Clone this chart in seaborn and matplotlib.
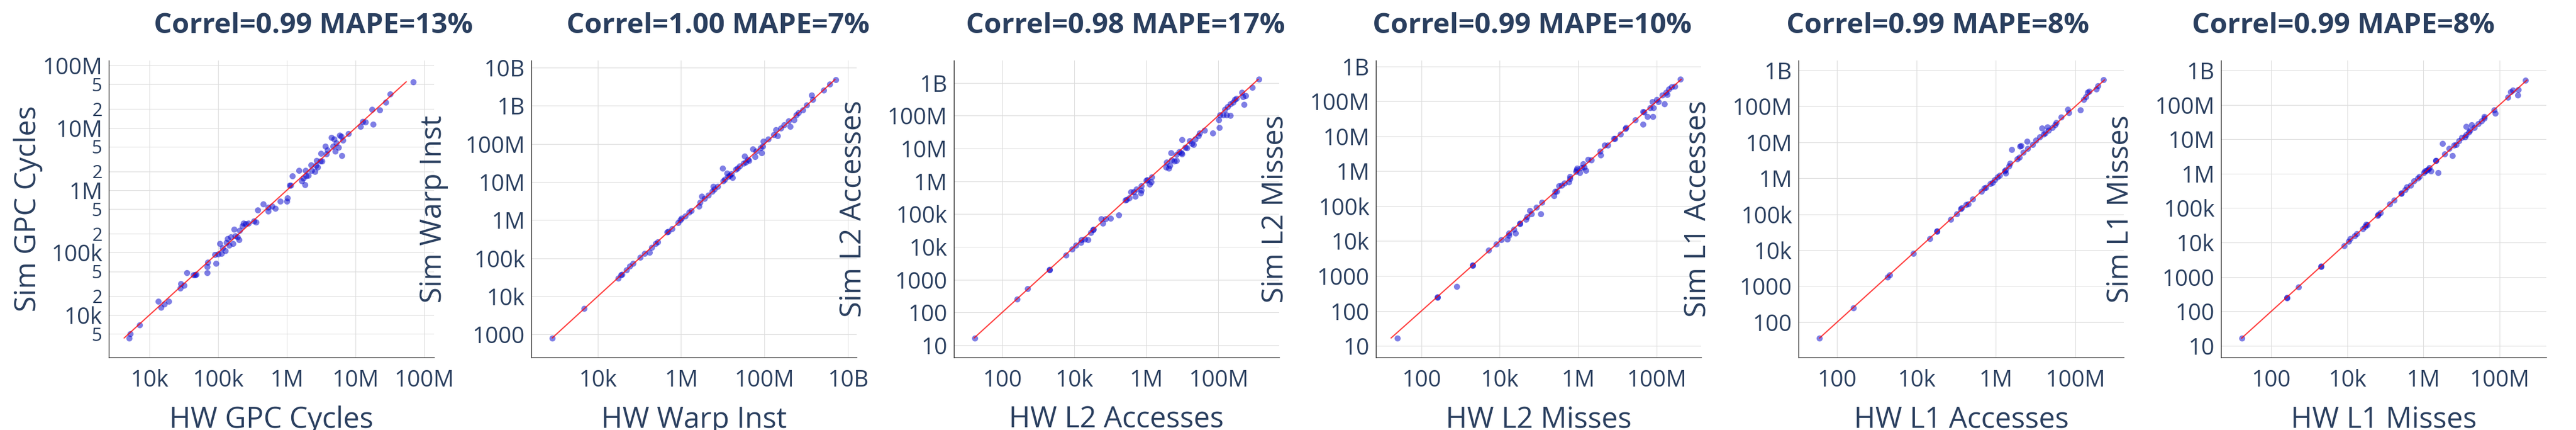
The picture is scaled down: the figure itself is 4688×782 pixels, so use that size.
import numpy as np
import pandas as pd
import seaborn as sns
from matplotlib import pyplot as plt
from matplotlib.ticker import NullLocator

# values, as log10 of the counter value
gpc_hw = [3.706, 3.718, 3.857, 4.131, 4.171, 4.220, 4.278, 4.449, 4.457, 4.502,
          4.543, 4.637, 4.665, 4.678, 4.837, 4.841, 4.845, 4.967, 4.951, 4.996,
          5.024, 5.045, 5.065, 5.106, 5.118, 5.135, 5.159, 5.188, 5.216, 5.233,
          5.249, 5.282, 5.302, 5.314, 5.355, 5.371, 5.404, 5.441, 5.518, 5.551,
          5.580, 5.657, 5.731, 5.727, 5.788, 5.829, 5.902, 6.004, 6.012, 6.041,
          6.053, 6.078, 6.176, 6.216, 6.241, 6.261, 6.269, 6.278, 6.310, 6.355,
          6.359, 6.408, 6.424, 6.433, 6.445, 6.486, 6.498, 6.510, 6.559, 6.576,
          6.596, 6.649, 6.669, 6.690, 6.706, 6.718, 6.751, 6.771, 6.792, 6.800,
          6.820, 6.898, 7.073, 7.106, 7.147, 7.257, 7.241, 7.355, 7.437, 7.502,
          7.841]
gpc_sim = [3.631, 3.699, 3.843, 4.216, 4.126, 4.171, 4.216, 4.431, 4.503, 4.472,
           4.679, 4.643, 4.643, 4.652, 4.679, 4.778, 4.845, 4.827, 4.971, 4.980,
           5.146, 4.989, 5.070, 5.034, 5.160, 5.227, 5.115, 5.249, 5.146, 5.371,
           5.272, 5.249, 5.204, 5.353, 5.425, 5.474, 5.465, 5.474, 5.506, 5.488,
           5.685, 5.780, 5.730, 5.667, 5.744, 5.708, 5.825, 5.820, 5.874, 6.081,
           6.081, 6.229, 6.319, 6.148, 6.193, 6.090, 6.319, 6.229, 6.238, 6.404,
           6.315, 6.301, 6.396, 6.476, 6.373, 6.463, 6.589, 6.463, 6.706, 6.584,
           6.643, 6.845, 6.701, 6.822, 6.629, 6.755, 6.688, 6.881, 6.867, 6.553,
           6.800, 6.912, 7.025, 7.101, 7.092, 7.056, 7.294, 7.285, 7.411, 7.546,
           7.739]

warp_hw = [2.913, 3.678, 4.490, 4.557, 4.584, 4.685, 4.772, 4.852, 5.020, 5.121,
           5.242, 5.289, 5.389, 5.443, 5.664, 5.691, 5.779, 5.926, 5.980, 6.013,
           6.094, 6.195, 6.242, 6.430, 6.450, 6.497, 6.564, 6.651, 6.745, 6.765,
           6.799, 6.879, 7.000, 7.013, 7.054, 7.101, 7.121, 7.168, 7.201, 7.235,
           7.315, 7.356, 7.403, 7.490, 7.523, 7.550, 7.604, 7.624, 7.725, 7.772,
           7.805, 7.906, 7.926, 7.960, 7.973, 8.087, 8.221, 8.275, 8.309, 8.396,
           8.477, 8.570, 8.611, 8.711, 8.758, 8.812, 8.913, 9.013, 9.134, 9.161,
           9.416, 9.564, 9.711]
warp_sim = [2.912, 3.685, 4.472, 4.568, 4.583, 4.693, 4.789, 4.862, 5.024, 5.120,
            5.157, 5.289, 5.392, 5.436, 5.694, 5.709, 5.782, 5.930, 6.003, 6.055,
            6.113, 6.209, 6.246, 6.371, 6.467, 6.629, 6.570, 6.651, 6.754, 6.886,
            6.813, 6.886, 7.365, 7.034, 7.070, 7.232, 7.144, 7.181, 7.218, 7.122,
            7.328, 7.365, 7.424, 7.497, 7.674, 7.527, 7.600, 7.564, 7.865, 7.659,
            7.806, 7.895, 7.762, 7.939, 8.064, 8.123, 8.248, 8.373, 8.211, 8.410,
            8.506, 8.601, 8.454, 8.631, 8.763, 8.822, 8.896, 9.021, 9.279, 9.161,
            9.411, 9.573, 9.691]

l2acc_hw = [1.244, 2.413, 2.709, 3.317, 3.317, 3.777, 3.933, 4.049, 4.182, 4.205,
            4.283, 4.377, 4.462, 4.517, 4.540, 4.751, 4.790, 4.868, 5.008, 5.234,
            5.413, 5.452, 5.530, 5.569, 5.686, 5.647, 5.725, 5.842, 5.857, 5.857,
            5.998, 6.036, 6.091, 6.138, 6.153, 6.543, 6.566, 6.621, 6.660, 6.683,
            6.699, 6.777, 6.839, 6.839, 6.917, 6.972, 6.987, 6.995, 7.073, 7.127,
            7.205, 7.260, 7.307, 7.361, 7.439, 7.478, 7.611, 7.844, 8.008, 8.024,
            8.039, 8.140, 8.218, 8.179, 8.257, 8.335, 8.335, 8.413, 8.452, 8.491,
            8.647, 8.686, 8.709, 8.764, 8.943, 9.130]
l2acc_sim = [1.222, 2.402, 2.718, 3.316, 3.299, 3.744, 3.932, 4.043, 4.128, 4.214,
             4.239, 4.214, 4.427, 4.513, 4.530, 4.855, 4.726, 4.855, 4.872, 4.966,
             5.427, 5.436, 5.496, 5.667, 5.538, 5.667, 5.752, 5.641, 5.863, 5.726,
             6.034, 6.051, 5.906, 5.983, 6.120, 6.436, 6.581, 6.393, 6.479, 6.863,
             6.650, 6.607, 6.821, 6.632, 6.906, 6.863, 7.274, 6.838, 7.034, 7.009,
             7.231, 7.145, 7.120, 7.291, 7.376, 7.462, 7.547, 7.462, 7.863, 7.632,
             8.017, 8.017, 8.017, 8.188, 8.274, 8.000, 8.359, 8.402, 8.487, 8.530,
             8.701, 8.573, 8.333, 8.615, 8.855, 9.103]

l2miss_hw = [1.379, 2.407, 2.407, 2.907, 3.307, 3.307, 3.707, 3.914, 4.029, 4.186,
             4.236, 4.236, 4.364, 4.400, 4.514, 4.514, 4.671, 4.700, 4.771, 4.814,
             4.936, 5.050, 5.079, 5.386, 5.414, 5.457, 5.507, 5.579, 5.650, 5.757,
             5.793, 5.793, 5.936, 5.957, 5.971, 6.043, 6.079, 6.129, 6.150, 6.200,
             6.257, 6.329, 6.557, 6.579, 6.671, 6.757, 6.914, 6.936, 7.079, 7.207,
             7.221, 7.457, 7.650, 7.650, 7.686, 7.771, 7.829, 7.886, 7.914, 7.900,
             8.007, 8.043, 8.150, 8.200, 8.243, 8.271, 8.314, 8.386, 8.471, 8.614]
l2miss_sim = [1.225, 2.406, 2.390, 2.703, 3.313, 3.305, 3.739, 3.916, 4.036, 4.060,
              4.221, 4.157, 4.333, 4.221, 4.502, 4.518, 4.622, 4.703, 4.880, 4.775,
              4.960, 4.783, 5.104, 5.297, 5.418, 5.418, 5.586, 5.602, 5.667, 5.699,
              5.779, 5.843, 5.988, 6.044, 6.084, 5.964, 6.100, 6.205, 6.124, 6.020,
              6.341, 6.325, 6.566, 6.470, 6.743, 6.743, 6.928, 6.928, 7.064, 7.225,
              7.249, 7.466, 7.707, 7.345, 7.691, 7.570, 7.811, 7.996, 7.811, 7.570,
              8.052, 7.996, 8.173, 7.932, 8.253, 8.197, 8.349, 8.414, 8.430, 8.631]

l1acc_hw = [1.555, 2.409, 3.264, 3.320, 3.913, 4.329, 4.520, 4.520, 4.859, 5.014,
            5.106, 5.141, 5.247, 5.296, 5.416, 5.635, 5.699, 5.741, 5.861, 5.911,
            5.967, 6.038, 6.094, 6.214, 6.249, 6.249, 6.320, 6.355, 6.391, 6.532,
            6.588, 6.602, 6.638, 6.687, 6.779, 6.800, 6.920, 7.012, 7.096, 7.153,
            7.202, 7.238, 7.294, 7.322, 7.414, 7.485, 7.520, 7.647, 7.802, 7.838,
            8.120, 8.212, 8.261, 8.311, 8.353, 8.522, 8.565, 8.706]
l1acc_sim = [1.555, 2.398, 3.256, 3.311, 3.912, 4.326, 4.521, 4.536, 4.856, 5.005,
             5.145, 5.184, 5.262, 5.285, 5.418, 5.637, 5.730, 5.746, 5.847, 5.886,
             5.964, 6.027, 6.081, 6.199, 6.144, 6.238, 6.339, 6.417, 6.799, 6.534,
             6.589, 6.893, 6.901, 6.721, 7.034, 6.823, 6.940, 7.057, 7.151, 7.400,
             7.229, 7.252, 7.432, 7.330, 7.408, 7.486, 7.541, 7.697, 7.915, 7.822,
             7.900, 8.189, 8.267, 8.384, 8.423, 8.478, 8.579, 8.735]

l1miss_hw = [1.233, 2.413, 2.413, 2.715, 3.312, 3.312, 3.916, 4.034, 4.071, 4.189,
             4.241, 4.410, 4.462, 4.499, 4.521, 4.794, 4.808, 4.867, 5.111, 5.236,
             5.420, 5.420, 5.516, 5.568, 5.663, 5.752, 5.848, 5.899, 6.010, 6.032,
             6.083, 6.120, 6.157, 6.194, 6.326, 6.326, 6.378, 6.503, 6.562, 6.673,
             6.754, 6.806, 6.857, 6.931, 7.005, 7.115, 7.093, 7.115, 7.189, 7.226,
             7.263, 7.337, 7.432, 7.521, 7.595, 7.595, 7.852, 7.889, 8.221, 8.294,
             8.346, 8.479, 8.494, 8.685]
l1miss_sim = [1.220, 2.403, 2.386, 2.704, 3.316, 3.300, 3.911, 4.034, 4.115, 4.197,
              4.254, 4.400, 4.458, 4.523, 4.507, 4.784, 4.808, 4.865, 5.118, 5.232,
              5.420, 5.436, 5.534, 5.607, 5.664, 5.787, 5.868, 5.925, 6.031, 6.072,
              6.097, 6.129, 6.178, 6.072, 6.374, 6.382, 6.031, 6.871, 6.578, 6.725,
              6.521, 6.831, 6.847, 6.953, 7.051, 7.377, 7.067, 7.132, 7.214, 7.255,
              7.418, 7.336, 7.459, 7.540, 7.662, 7.605, 7.850, 7.760, 8.217, 8.372,
              8.421, 8.290, 8.437, 8.722]

titles = ["Correl=0.99 MAPE=13%", "Correl=1.00 MAPE=7%", "Correl=0.98 MAPE=17%",
          "Correl=0.99 MAPE=10%", "Correl=0.99 MAPE=8%", "Correl=0.99 MAPE=8%"]
xlabels = ["HW GPC Cycles", "HW Warp Inst", "HW L2 Accesses",
           "HW L2 Misses", "HW L1 Accesses", "HW L1 Misses"]
ylabels = ["Sim GPC Cycles", "Sim Warp Inst", "Sim L2 Accesses",
           "Sim L2 Misses", "Sim L1 Accesses", "Sim L1 Misses"]

# tick values (log10) and their labels
xtick_exp = [[4, 5, 6, 7, 8], [4, 6, 8, 10], [2, 4, 6, 8], [2, 4, 6, 8], [2, 4, 6, 8], [2, 4, 6, 8]]
ytick_exp = [list(range(4, 9)), list(range(3, 11)), list(range(1, 10)), list(range(1, 10)),
             list(range(2, 10)), list(range(1, 10))]
# in-between labels on the first panel only
gpc_minor = [5e3, 2e4, 5e4, 2e5, 5e5, 2e6, 5e6, 2e7, 5e7]
gpc_minor_labels = ['5', '2', '5', '2', '5', '2', '5', '2', '5']
names = {1: '10', 2: '100', 3: '1000', 4: '10k', 5: '100k', 6: '1M',
         7: '10M', 8: '100M', 9: '1B', 10: '10B'}

xlims = [(3.408, 8.144), (2.41, 10.21), (0.654, 9.68), (0.839, 9.14), (1.025, 9.22), (0.679, 9.23)]
ylims = [(3.32, 8.08), (2.40, 10.19), (0.63, 9.68), (0.67, 9.17), (1.017, 9.275), (0.66, 9.29)]

series = [(gpc_hw, gpc_sim), (warp_hw, warp_sim), (l2acc_hw, l2acc_sim),
          (l2miss_hw, l2miss_sim), (l1acc_hw, l1acc_sim), (l1miss_hw, l1miss_sim)]

sns.set_style("white")
plt.rcParams['font.family'] = ['Open Sans', 'DejaVu Sans']
txt = '#2a3f5f'

W, H = 4688, 782
fig = plt.figure(figsize=(W / 100, H / 100), dpi=100)
lefts = [198, 967, 1735.5, 2504, 3273, 4042]
title_cx = [570, 1307, 2048, 2788, 3527, 4265]
ylab_x = [-0.248, -0.30, -0.309, -0.309, -0.309, -0.309]

for i, (hw, sim) in enumerate(series):
    ax = fig.add_axes([lefts[i] / W, 1 - 650 / H, 592 / W, 540 / H])
    ax.set_xscale('log')
    ax.set_yscale('log')
    df = pd.DataFrame({'hw': 10 ** np.array(hw), 'sim': 10 ** np.array(sim)})
    sns.scatterplot(data=df, x='hw', y='sim', ax=ax, color='mediumblue',
                    alpha=0.5, s=64, linewidth=0, zorder=3)
    lo, hi = df['sim'].min(), df['sim'].max()
    sns.lineplot(x=[lo, hi], y=[lo, hi], ax=ax, color='red', alpha=0.75,
                 lw=1.6, zorder=4)

    ax.set_xlim(10 ** xlims[i][0], 10 ** xlims[i][1])
    ax.set_ylim(10 ** ylims[i][0], 10 ** ylims[i][1])

    ax.set_xticks([10.0 ** e for e in xtick_exp[i]])
    ax.set_xticklabels([names[e] for e in xtick_exp[i]])
    ax.set_yticks([10.0 ** e for e in ytick_exp[i]])
    ax.set_yticklabels([names[e] for e in ytick_exp[i]])
    ax.xaxis.set_minor_locator(NullLocator())
    if i == 0:
        ax.set_yticks(gpc_minor, minor=True)
        ax.set_yticklabels(gpc_minor_labels, minor=True)
    else:
        ax.yaxis.set_minor_locator(NullLocator())

    ax.tick_params(axis='both', which='both', length=0, labelcolor=txt)
    ax.tick_params(axis='both', which='major', labelsize=30)
    ax.tick_params(axis='y', which='minor', labelsize=24)
    ax.tick_params(axis='x', pad=15)
    ax.tick_params(axis='y', which='both', pad=8.5)

    ax.grid(True, which='both', color='#dcdcdc', lw=0.8)
    ax.set_axisbelow(True)
    for s in ('top', 'right'):
        ax.spines[s].set_visible(False)
    for s in ('left', 'bottom'):
        ax.spines[s].set_color('#242424')
        ax.spines[s].set_linewidth(1.0)

    ax.set_xlabel(xlabels[i], fontsize=38, color=txt)
    ax.xaxis.set_label_coords(0.5, -0.237)
    ax.xaxis.label.set_va('baseline')
    ax.set_ylabel(ylabels[i], fontsize=38, color=txt)
    ax.yaxis.set_label_coords(ylab_x[i], 0.5)
    ax.yaxis.label.set_va('center')

    fig.text(title_cx[i] / W, 1 - 60 / H, titles[i], ha='center', va='baseline',
             fontsize=37, fontweight='bold', color=txt)

fig.savefig('out.png', dpi=100)
